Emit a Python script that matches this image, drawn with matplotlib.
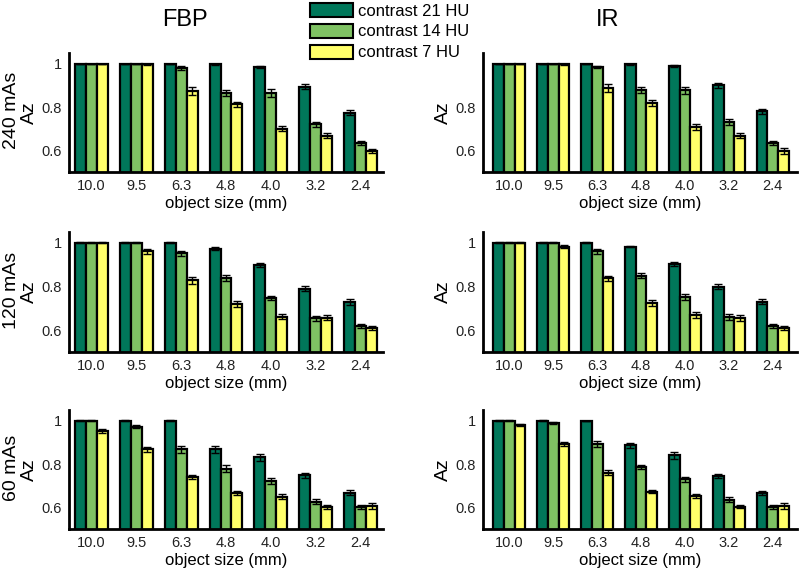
import matplotlib
matplotlib.use("Agg")
import matplotlib.pyplot as plt
import numpy as np
from matplotlib.patches import Patch

plt.rcParams['font.family'] = ['Liberation Sans', 'DejaVu Sans']

sizes = ["10.0", "9.5", "6.3", "4.8", "4.0", "3.2", "2.4"]
series_names = ["contrast 21 HU", "contrast 14 HU", "contrast 7 HU"]
methods = ["FBP", "IR"]
doses = ["240 mAs", "120 mAs", "60 mAs"]

# FBP values
fbp240_c21 = [1.0, 1.0, 1.0, 0.997, 0.985, 0.895, 0.775]
fbp240_c14 = [1.0, 1.0, 0.98, 0.864, 0.864, 0.72, 0.634]
fbp240_c7 = [1.0, 0.997, 0.875, 0.812, 0.70, 0.668, 0.597]
fbp120_c21 = [1.0, 1.0, 1.0, 0.974, 0.898, 0.79, 0.729]
fbp120_c14 = [1.0, 1.0, 0.952, 0.84, 0.748, 0.654, 0.619]
fbp120_c7 = [1.0, 0.961, 0.828, 0.72, 0.662, 0.657, 0.609]
fbp60_c21 = [1.0, 1.0, 1.0, 0.868, 0.831, 0.748, 0.667]
fbp60_c14 = [1.0, 0.973, 0.868, 0.779, 0.722, 0.627, 0.603]
fbp60_c7 = [0.954, 0.868, 0.741, 0.667, 0.65, 0.603, 0.606]
# IR values
ir240_c21 = [1.0, 1.0, 1.0, 0.998, 0.99, 0.90, 0.78]
ir240_c14 = [1.0, 1.0, 0.985, 0.88, 0.877, 0.73, 0.634]
ir240_c7 = [1.0, 0.997, 0.888, 0.82, 0.708, 0.668, 0.597]
ir120_c21 = [1.0, 1.0, 1.0, 0.983, 0.902, 0.80, 0.73]
ir120_c14 = [1.0, 1.0, 0.961, 0.85, 0.752, 0.66, 0.619]
ir120_c7 = [1.0, 0.983, 0.837, 0.724, 0.67, 0.657, 0.609]
ir60_c21 = [1.0, 1.0, 1.0, 0.886, 0.84, 0.746, 0.665]
ir60_c14 = [1.0, 0.988, 0.893, 0.787, 0.729, 0.635, 0.603]
ir60_c7 = [0.98, 0.893, 0.76, 0.673, 0.652, 0.603, 0.606]

# error bars (half-widths)
fbp240_e21 = [0, 0, 0, 0.003, 0.005, 0.012, 0.013]
fbp240_e14 = [0, 0, 0.008, 0.014, 0.018, 0.013, 0.01]
fbp240_e7 = [0, 0.002, 0.02, 0.013, 0.012, 0.01, 0.01]
fbp120_e21 = [0.002, 0.002, 0.002, 0.006, 0.01, 0.012, 0.013]
fbp120_e14 = [0.002, 0.002, 0.01, 0.015, 0.01, 0.01, 0.011]
fbp120_e7 = [0.002, 0.01, 0.015, 0.012, 0.01, 0.012, 0.01]
fbp60_e21 = [0.002, 0.002, 0.002, 0.015, 0.015, 0.01, 0.012]
fbp60_e14 = [0.002, 0.008, 0.015, 0.015, 0.012, 0.012, 0.01]
fbp60_e7 = [0.008, 0.012, 0.01, 0.01, 0.01, 0.01, 0.012]
ir240_e21 = [0, 0, 0, 0.003, 0.005, 0.012, 0.012]
ir240_e14 = [0, 0, 0.005, 0.013, 0.016, 0.013, 0.011]
ir240_e7 = [0, 0.002, 0.02, 0.013, 0.012, 0.01, 0.012]
ir120_e21 = [0.002, 0.002, 0.002, 0.004, 0.01, 0.012, 0.012]
ir120_e14 = [0.002, 0.002, 0.01, 0.012, 0.012, 0.012, 0.01]
ir120_e7 = [0.002, 0.006, 0.012, 0.015, 0.012, 0.014, 0.01]
ir60_e21 = [0.002, 0.002, 0.0, 0.012, 0.015, 0.01, 0.01]
ir60_e14 = [0.002, 0.005, 0.012, 0.01, 0.012, 0.012, 0.01]
ir60_e7 = [0.005, 0.008, 0.012, 0.008, 0.01, 0.008, 0.012]

colors = ["#00775a", "#7fc263", "#ffff6a"]

panels = {
    ("FBP", 0): ([fbp240_c21, fbp240_c14, fbp240_c7], [fbp240_e21, fbp240_e14, fbp240_e7]),
    ("FBP", 1): ([fbp120_c21, fbp120_c14, fbp120_c7], [fbp120_e21, fbp120_e14, fbp120_e7]),
    ("FBP", 2): ([fbp60_c21, fbp60_c14, fbp60_c7], [fbp60_e21, fbp60_e14, fbp60_e7]),
    ("IR", 0): ([ir240_c21, ir240_c14, ir240_c7], [ir240_e21, ir240_e14, ir240_e7]),
    ("IR", 1): ([ir120_c21, ir120_c14, ir120_c7], [ir120_e21, ir120_e14, ir120_e7]),
    ("IR", 2): ([ir60_c21, ir60_c14, ir60_c7], [ir60_e21, ir60_e14, ir60_e7]),
}

W, H = 800, 568
fig = plt.figure(figsize=(8, 5.68), dpi=100)

col_px = {"FBP": (69, 383, (-0.5, 6.5)), "IR": (483, 797, (-0.6, 6.55))}
title_px = {"FBP": 185, "IR": 608}
row_px = [(53, 172), (232, 352), (410, 529)]

x = np.arange(len(sizes))
bw = 0.245
for m in methods:
    x0, x1, xl = col_px[m]
    for r in range(3):
        t, b = row_px[r]
        ax = fig.add_axes([x0 / W, 1 - b / H, (x1 - x0) / W, (b - t) / H])
        vals, errs = panels[(m, r)]
        for k in range(3):
            ax.bar(x + (k - 1) * bw, vals[k], width=bw, color=colors[k],
                   edgecolor="black", linewidth=1.6, zorder=2,
                   yerr=errs[k], capsize=2.8,
                   error_kw=dict(ecolor="black", elinewidth=1.0, capthick=1.0, zorder=3))
        ax.set_ylim(0.5, 1.05)
        ax.set_xlim(*xl)
        ax.set_xticks(x)
        ax.set_xticklabels(sizes)
        if m == "IR" and r == 0:
            ax.set_yticks([0.6, 0.8])
            ax.set_yticklabels(["0.6", "0.8"])
        else:
            ax.set_yticks([0.6, 0.8, 1.0])
            ax.set_yticklabels(["0.6", "0.8", "1"])
        ax.tick_params(length=0, labelsize=10.5, colors="#222222", pad=5)
        for s in ["top", "right"]:
            ax.spines[s].set_visible(False)
        for s in ["left", "bottom"]:
            ax.spines[s].set_linewidth(2)
        ax.set_xlabel("object size (mm)", fontsize=12, labelpad=2)
        ax.set_ylabel("Az", fontsize=14, labelpad=3)
        if r == 0:
            fig.text(title_px[m] / W, 1 - 20 / H, m,
                     fontsize=17, ha="center", va="center")
        if m == "FBP":
            cy = (t + b) / 2 - 2
            fig.text(12 / W, 1 - cy / H, doses[r], rotation=90, fontsize=14,
                     ha="center", va="center")

handles = [Patch(facecolor=colors[k], edgecolor="black", linewidth=1.5, label=series_names[k])
           for k in range(3)]
fig.legend(handles=handles, loc="upper left", bbox_to_anchor=(308 / W, 1 - 1 / H),
           frameon=False, fontsize=12, handlelength=2.6, handleheight=0.95,
           handletextpad=0.3, labelspacing=0.3, borderaxespad=0.0, borderpad=0.1)

fig.savefig("out.png", dpi=100)
